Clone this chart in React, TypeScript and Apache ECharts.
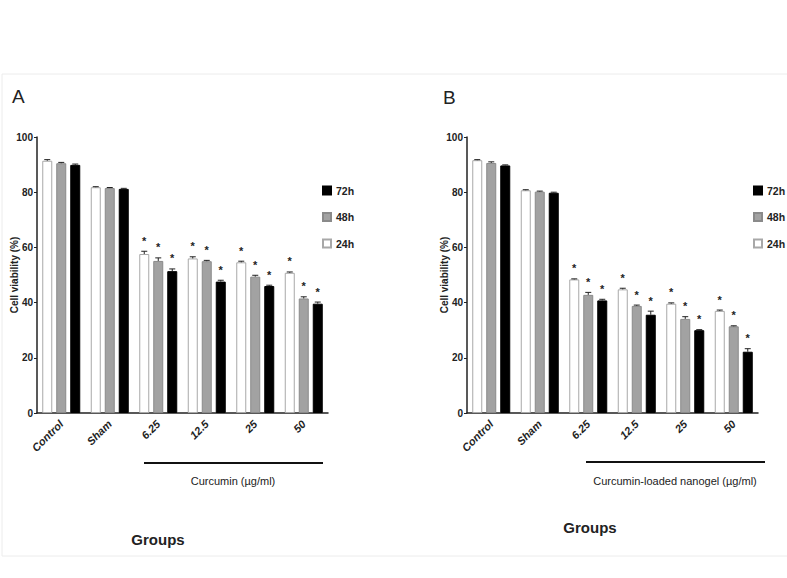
import React, { useEffect, useRef } from "react";
import * as echarts from "echarts";

const categories = ["Control", "Sham", "6.25", "12.5", "25", "50"];
const seriesNames = ["24h", "48h", "72h"];
const significant = [0, 0, 1, 1, 1, 1];

// Panel A: Curcumin
const a24 = [91.4, 81.8, 57.6, 56.0, 54.6, 50.8];
const a48 = [90.5, 81.5, 55.1, 55.0, 49.4, 41.5];
const a72 = [89.9, 81.2, 51.4, 47.6, 46.0, 39.6];
const a24Err = [0.4, 0.2, 1.0, 0.6, 0.4, 0.3];
const a48Err = [0.3, 0.2, 1.1, 0.3, 0.5, 0.6];
const a72Err = [0.3, 0.2, 0.8, 0.5, 0.3, 0.6];

// Panel B: Curcumin-loaded nanogel
const b24 = [91.6, 80.7, 48.4, 44.8, 39.6, 37.0];
const b48 = [90.6, 80.2, 42.8, 38.8, 34.1, 31.4];
const b72 = [89.7, 79.8, 40.8, 35.6, 30.0, 22.2];
const b24Err = [0.2, 0.2, 0.2, 0.4, 0.3, 0.3];
const b48Err = [0.4, 0.2, 0.9, 0.3, 0.8, 0.2];
const b72Err = [0.2, 0.2, 0.4, 1.3, 0.2, 1.1];

const yTicks = { min: 0, max: 100, interval: 20 };

const colors = ["#ffffff", "#a2a2a2", "#000000"];
const borders = ["#a8a8a8", "#8a8a8a", "#000000"];
const FONT = "Liberation Sans";

export default function App() {
  const ref = useRef<HTMLDivElement>(null);

  useEffect(() => {
    if (!ref.current) return;
    const chart = echarts.init(ref.current, null, { renderer: "svg" });

    const panels = [
      { vals: [a24, a48, a72], errs: [a24Err, a48Err, a72Err] },
      { vals: [b24, b48, b72], errs: [b24Err, b48Err, b72Err] },
    ];

    const series: any[] = [];
    panels.forEach((p, pi) => {
      p.vals.forEach((v, si) => {
        series.push({
          type: "bar",
          name: seriesNames[si],
          xAxisIndex: pi,
          yAxisIndex: pi,
          data: v,
          barWidth: 10,
          barGap: "40%",
          itemStyle: { color: colors[si], borderColor: borders[si], borderWidth: 1 },
          emphasis: { disabled: true },
        });
      });
      p.vals.forEach((v, si) => {
        const offset = (si - 1) * 14;
        series.push({
          type: "custom",
          xAxisIndex: pi,
          yAxisIndex: pi,
          z: 5,
          data: v.map((m, i) => [i, m, p.errs[si][i], significant[i]]),
          encode: { x: 0, y: 1 },
          renderItem: (params: any, api: any) => {
            const ci = api.value(0);
            const mean = api.value(1);
            const err = api.value(2);
            const sig = api.value(3);
            const base = api.coord([ci, mean]);
            const top = api.coord([ci, mean + err]);
            const x = base[0] + offset;
            const children: any[] = [
              { type: "line", shape: { x1: x, y1: base[1], x2: x, y2: top[1] }, style: { stroke: "#222", lineWidth: 1 } },
              { type: "line", shape: { x1: x - 3, y1: top[1], x2: x + 3, y2: top[1] }, style: { stroke: "#222", lineWidth: 1 } },
            ];
            if (sig) {
              children.push({
                type: "text",
                x: x,
                y: top[1] - 5,
                style: {
                  text: "*",
                  fontSize: 11,
                  fontWeight: "bold",
                  fontFamily: FONT,
                  fill: "#222",
                  align: "center",
                  verticalAlign: "bottom",
                },
              });
            }
            return { type: "group", children };
          },
        });
      });
    });

    const mkX = (gi: number) => ({
      type: "category",
      gridIndex: gi,
      data: categories,
      axisLine: { lineStyle: { color: "#222", width: 1.5 } },
      axisTick: { alignWithLabel: true, length: 4, lineStyle: { color: "#222" } },
      axisLabel: {
        rotate: 45,
        margin: 9,
        fontSize: 11,
        fontWeight: "bold",
        fontStyle: "italic",
        fontFamily: FONT,
        color: "#222",
      },
    });
    const mkY = (gi: number) => ({
      type: "value",
      gridIndex: gi,
      min: yTicks.min,
      max: yTicks.max,
      interval: yTicks.interval,
      name: "Cell viability (%)",
      nameLocation: "middle",
      nameGap: 18,
      nameMoveOverlap: false,
      nameTextStyle: { fontSize: 10, fontWeight: "bold", fontFamily: FONT, color: "#222" },
      axisLine: { show: true, lineStyle: { color: "#222", width: 1.5 } },
      axisTick: { show: true, length: 3, lineStyle: { color: "#222" } },
      axisLabel: { fontSize: 10, fontWeight: "bold", fontFamily: FONT, color: "#222", margin: 4 },
      splitLine: { show: false },
    });

    const legendCommon = {
      orient: "vertical",
      data: ["72h", "48h", "24h"],
      icon: "rect",
      itemWidth: 8,
      itemHeight: 8,
      itemGap: 15.5,
      selectedMode: false,
      textStyle: { fontSize: 10.5, fontWeight: "bold", fontFamily: FONT, color: "#222" },
    };

    chart.setOption({
      animation: false,
      backgroundColor: "#ffffff",
      grid: [
        { left: 37, right: 459, top: 137, bottom: 165 },
        { left: 467, right: 29, top: 137, bottom: 165 },
      ],
      xAxis: [mkX(0), mkX(1)],
      yAxis: [mkY(0), mkY(1)],
      legend: [
        { ...legendCommon, left: 322, top: 185, padding: 0 },
        { ...legendCommon, left: 753, top: 185, padding: 0 },
      ],
      series,
      graphic: [
        { type: "rect", shape: { x: 2, y: 74, width: 800, height: 482 }, style: { fill: "none", stroke: "#ececec", lineWidth: 1 }, silent: true },
        { type: "text", x: 12, y: 87, style: { text: "A", fontSize: 19, fontFamily: FONT, fill: "#222" } },
        { type: "text", x: 443, y: 88, style: { text: "B", fontSize: 19, fontFamily: FONT, fill: "#222" } },
        { type: "line", shape: { x1: 144, y1: 463, x2: 323, y2: 463 }, style: { stroke: "#111", lineWidth: 2 } },
        { type: "line", shape: { x1: 586, y1: 462, x2: 765, y2: 462 }, style: { stroke: "#111", lineWidth: 2 } },
        { type: "text", x: 233, y: 481, style: { text: "Curcumin (µg/ml)", fontSize: 11, fontFamily: FONT, fill: "#222", align: "center", verticalAlign: "middle" } },
        { type: "text", x: 675, y: 481, style: { text: "Curcumin-loaded nanogel (µg/ml)", fontSize: 11, fontFamily: FONT, fill: "#222", align: "center", verticalAlign: "middle" } },
        { type: "text", x: 158, y: 539, style: { text: "Groups", fontSize: 15, fontWeight: "bold", fontFamily: FONT, fill: "#222", align: "center", verticalAlign: "middle" } },
        { type: "text", x: 590, y: 527, style: { text: "Groups", fontSize: 15, fontWeight: "bold", fontFamily: FONT, fill: "#222", align: "center", verticalAlign: "middle" } },
      ],
    });

    return () => chart.dispose();
  }, []);

  return (
    <div
      ref={ref}
      style={{ position: "absolute", left: 0, top: 0, width: 787, height: 578 }}
    />
  );
}
